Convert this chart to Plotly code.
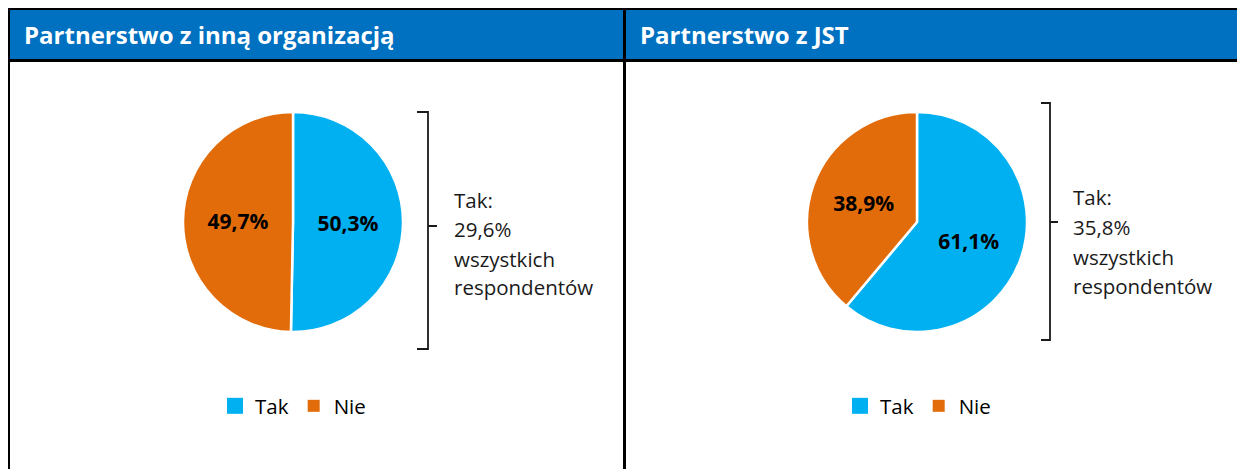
import plotly.graph_objects as go

# page is 1245x469; the html body adds an 8px margin, so the figure covers page 8..1245
OFF = 8
W, H = 1245 - OFF, 469 - OFF

# ---- data ----
labels = ["Tak", "Nie"]
inna_org_values = [50.3, 49.7]
jst_values = [61.1, 38.9]
panel_titles = ["Partnerstwo z inną organizacją", "Partnerstwo z JST"]
note_inna_org = ["Tak:", "29,6%", "wszystkich", "respondentów"]
note_jst = ["Tak:", "35,8%", "wszystkich", "respondentów"]

colors = ["#00B0F0", "#E36C0A"]
legend_marker_sizes = [16, 12]
header_blue = "#0070C0"
FONT = "Open Sans"


def px(x):
    return (x - OFF) / W


def py(y):
    return 1 - (y - OFF) / H


fig = go.Figure()

pie_common = dict(
    labels=labels,
    sort=False,
    direction="clockwise",
    rotation=0,
    marker=dict(colors=colors, line=dict(color="white", width=2.5)),
    texttemplate="<b>%{value:.1f}%</b>",
    textposition="inside",
    insidetextorientation="horizontal",
    textfont=dict(family=FONT, size=21, color="black"),
    hoverinfo="skip",
    showlegend=False,
)

fig.add_trace(go.Pie(
    values=inna_org_values,
    domain=dict(x=[px(183), px(403)], y=[py(332), py(112)]),
    **pie_common,
))
fig.add_trace(go.Pie(
    values=jst_values,
    domain=dict(x=[px(807), px(1027)], y=[py(332), py(112)]),
    **pie_common,
))

# legend entries (one legend per panel)
for leg in ["legend", "legend2"]:
    for lab, col, sz in zip(labels, colors, legend_marker_sizes):
        fig.add_trace(go.Scatter(
            x=[None], y=[None], mode="markers", name=lab,
            marker=dict(symbol="square", color=col, size=sz),
            legend=leg, hoverinfo="skip", showlegend=True,
        ))

shapes = []
# header band
shapes.append(dict(type="rect", xref="paper", yref="paper",
                   x0=px(9), x1=px(1245), y0=py(60), y1=py(9),
                   fillcolor=header_blue, line=dict(width=0), layer="below"))
# frame lines
shapes.append(dict(type="line", xref="paper", yref="paper",
                   x0=px(8), x1=px(1245), y0=py(9), y1=py(9),
                   line=dict(color="black", width=2)))
shapes.append(dict(type="line", xref="paper", yref="paper",
                   x0=px(8), x1=px(1245), y0=py(60.5), y1=py(60.5),
                   line=dict(color="black", width=3)))
shapes.append(dict(type="line", xref="paper", yref="paper",
                   x0=px(9), x1=px(9), y0=py(8), y1=py(469),
                   line=dict(color="black", width=2)))
shapes.append(dict(type="line", xref="paper", yref="paper",
                   x0=px(624.5), x1=px(624.5), y0=py(8), y1=py(469),
                   line=dict(color="black", width=3)))


def bracket(xv, xl, xt, ytop, ybot, ymid):
    path = (f"M {px(xl)},{py(ytop)} L {px(xv)},{py(ytop)} L {px(xv)},{py(ybot)} "
            f"L {px(xl)},{py(ybot)} M {px(xv)},{py(ymid)} L {px(xt)},{py(ymid)}")
    return dict(type="path", xref="paper", yref="paper", path=path,
                line=dict(color="#1a1a1a", width=1.8))


shapes.append(bracket(428, 417, 437, 112, 349, 226))
shapes.append(bracket(1050, 1041, 1058, 103, 340, 222))

annotations = []
# headers
annotations.append(dict(text=f"<b>{panel_titles[0]}</b>", xref="paper", yref="paper",
                        x=px(22), y=py(35), xanchor="left", yanchor="middle",
                        showarrow=False, font=dict(family=FONT, size=24, color="white")))
annotations.append(dict(text=f"<b>{panel_titles[1]}</b>", xref="paper", yref="paper",
                        x=px(638), y=py(35), xanchor="left", yanchor="middle",
                        showarrow=False, font=dict(family=FONT, size=24, color="white")))

# bracket notes
for lines, x0, ys in [(note_inna_org, 452, [200, 229, 259, 287]),
                      (note_jst, 1071, [197, 227, 257, 286])]:
    for t, yy in zip(lines, ys):
        annotations.append(dict(text=t, xref="paper", yref="paper",
                                x=px(x0), y=py(yy), xanchor="left", yanchor="middle",
                                showarrow=False,
                                font=dict(family=FONT, size=20.5, color="#1a1a1a")))

legend_common = dict(orientation="h", xanchor="center", yanchor="middle",
                     font=dict(family=FONT, size=20.5, color="black"),
                     itemwidth=30, itemsizing="trace",
                     bgcolor="rgba(0,0,0,0)", traceorder="normal")

fig.update_layout(
    width=W, height=H,
    margin=dict(l=0, r=0, t=0, b=0),
    paper_bgcolor="white",
    plot_bgcolor="white",
    separators=", ",
    showlegend=True,
    xaxis=dict(visible=False, domain=[0, 0.01]),
    yaxis=dict(visible=False, domain=[0, 0.01]),
    legend=dict(x=px(293), y=py(406), **legend_common),
    legend2=dict(x=px(918), y=py(406), **legend_common),
    shapes=shapes,
    annotations=annotations,
    font=dict(family=FONT),
)

fig.write_html("out.html")
